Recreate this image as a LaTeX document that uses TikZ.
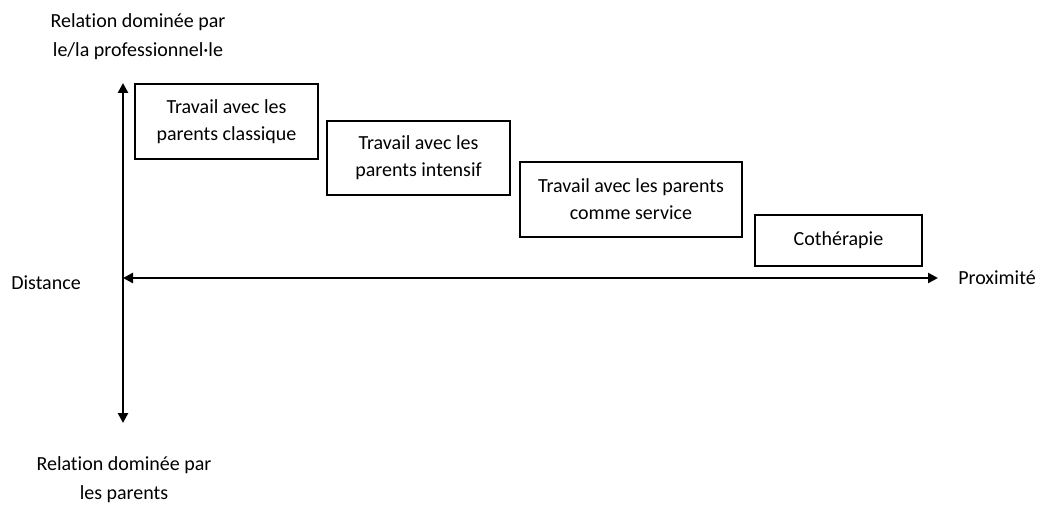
\documentclass[tikz,border=0pt]{standalone}
\usepackage{fontspec}
\setmainfont{Carlito}[Ligatures=CommonOff]
\usetikzlibrary{arrows.meta, positioning}
\tikzset{
  phasenode/.style={rectangle,draw=black,line width=1.3pt,align=center,
    font=\fontsize{15pt}{20.25pt}\selectfont,inner sep=0pt},
  axlabel/.style={align=center,font=\fontsize{15pt}{21.75pt}\selectfont,inner sep=0pt},
  axarr/.style={{Triangle[length=7.5pt,width=7.5pt]}-{Triangle[length=7.5pt,width=7.5pt]},line width=1.9pt}
}

\begin{document}
\begin{tikzpicture}[x=0.75pt,y=-0.75pt]
  \useasboundingbox (0,0) rectangle (1039,506);

  % Axis end points
  \coordinate (vtop) at (123,83);
  \coordinate (vbot) at (123,423);
  \coordinate (hleft) at (123,278);
  \coordinate (hright) at (938,278);

  % Axes
  \draw[axarr] (vbot) -- (vtop);
  \draw[axarr] (hleft) -- (hright);

  % Axis labels
  \node[axlabel] (pro) at (138,37) {Relation dominée par\\le/la professionnel·le};
  \node[axlabel] (par) at (124,480) {Relation dominée par\\les parents};
  \node[axlabel] (dist) at (46,283) {Distance};
  \node[axlabel] (prox) at (997,278) {Proximité};

  % Forms of parent work
  \node[phasenode,minimum width=137.25pt,minimum height=56.25pt] (classique) at (226.5,121.5)
    {Travail avec les\\parents classique};
  \node[phasenode,minimum width=137.25pt,minimum height=55.5pt] (intensif) at (418.5,158)
    {Travail avec les\\parents intensif};
  \node[phasenode,minimum width=166.5pt,minimum height=56.25pt] (service) at (631,199.5)
    {Travail avec les parents\\comme service};
  \node[phasenode,minimum width=125.25pt,minimum height=38.25pt] (cotherapie) at (838.5,240.5)
    {Cothérapie};

\end{tikzpicture}
\end{document}
